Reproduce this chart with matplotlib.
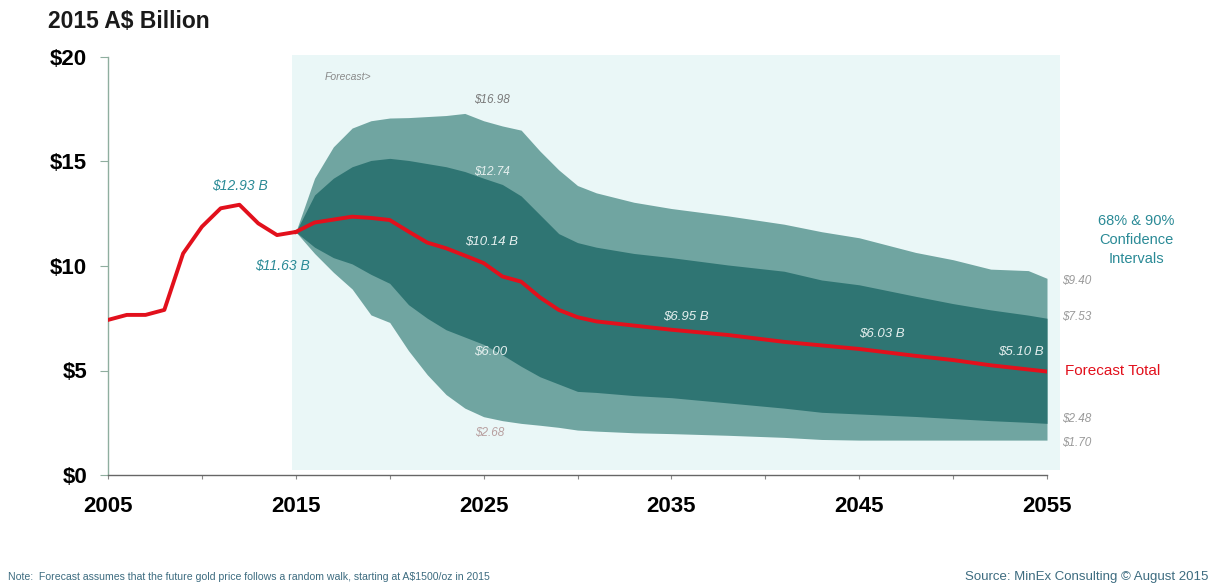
import matplotlib
matplotlib.use("Agg")
import matplotlib.pyplot as plt
from matplotlib.patches import Rectangle
from matplotlib import font_manager

plt.rcParams['font.family'] = ['Liberation Sans', 'DejaVu Sans']

# ---------------- data ----------------
hist_years = [2005, 2006, 2007, 2008, 2009, 2010, 2011, 2012, 2013, 2014, 2015]
hist_values = [7.42, 7.66, 7.66, 7.9, 10.6, 11.88, 12.76, 12.93, 12.04, 11.48, 11.63]

fc_years = [2015, 2016, 2017, 2018, 2019, 2020, 2021, 2022, 2023, 2024, 2025,
            2026, 2027, 2028, 2029, 2030, 2031, 2033, 2035, 2038, 2041, 2043,
            2045, 2048, 2050, 2052, 2054, 2055]
fc_median = [11.63, 12.08, 12.22, 12.36, 12.3, 12.2, 11.65, 11.12, 10.85, 10.5, 10.14,
             9.5, 9.25, 8.5, 7.9, 7.55, 7.35, 7.15, 6.95, 6.7, 6.37, 6.2,
             6.03, 5.7, 5.5, 5.25, 5.05, 4.95]
fc_upper90 = [11.63, 14.2, 15.7, 16.6, 16.95, 17.08, 17.1, 17.15, 17.2, 17.3, 16.95,
              16.7, 16.5, 15.5, 14.6, 13.85, 13.5, 13.05, 12.75, 12.4, 12.0, 11.64,
              11.35, 10.65, 10.3, 9.85, 9.78, 9.41]
fc_upper68 = [11.63, 13.4, 14.2, 14.75, 15.05, 15.15, 15.05, 14.9, 14.75, 14.52, 14.2,
              13.9, 13.35, 12.45, 11.55, 11.12, 10.9, 10.6, 10.4, 10.05, 9.75, 9.33,
              9.1, 8.55, 8.2, 7.9, 7.65, 7.5]
fc_lower68 = [11.63, 10.9, 10.4, 10.1, 9.6, 9.17, 8.15, 7.5, 6.95, 6.6, 6.25,
              5.75, 5.2, 4.7, 4.35, 4.0, 3.95, 3.8, 3.7, 3.45, 3.2, 3.0,
              2.92, 2.8, 2.7, 2.6, 2.52, 2.47]
fc_lower90 = [11.63, 10.6, 9.7, 8.9, 7.66, 7.3, 5.95, 4.8, 3.85, 3.2, 2.79,
              2.6, 2.47, 2.38, 2.28, 2.15, 2.1, 2.02, 1.98, 1.9, 1.8, 1.7,
              1.67, 1.67, 1.67, 1.67, 1.67, 1.67]

x_ticks = [2005, 2010, 2015, 2020, 2025, 2030, 2035, 2040, 2045, 2050, 2055]
x_labels = ['2005', '', '2015', '', '2025', '', '2035', '', '2045', '', '2055']
y_ticks = [0, 5, 10, 15, 20]
y_labels = ['$0', '$5', '$10', '$15', '$20']

# ---------------- colours ----------------
c_light = '#70a5a1'
c_dark = '#2f7573'
c_bg = '#eaf7f7'
c_red = '#e2101c'
c_teal_txt = '#2a8a96'
c_gray_txt = '#9a9a9a'

# narrow font for the note if available
installed = {f.name for f in font_manager.fontManager.ttflist}
narrow = 'Liberation Sans Narrow' if 'Liberation Sans Narrow' in installed else None

W, H = 1217, 588
fig = plt.figure(figsize=(W / 100, H / 100), dpi=100)
fig.patch.set_facecolor('white')

ax_left, ax_right = 108 / W, 1047 / W
ax_bottom, ax_top = (H - 475) / H, (H - 57) / H
ax = fig.add_axes([ax_left, ax_bottom, ax_right - ax_left, ax_top - ax_bottom])
ax.set_facecolor('none')
ax.set_xlim(2005, 2055)
ax.set_ylim(0, 20)

# forecast background panel
ax.add_patch(Rectangle((2014.8, 0.25), 40.9, 19.85, facecolor=c_bg,
                       edgecolor='none', zorder=0, clip_on=False))

ax.fill_between(fc_years, fc_lower90, fc_upper90, color=c_light, lw=0, zorder=1)
ax.fill_between(fc_years, fc_lower68, fc_upper68, color=c_dark, lw=0, zorder=2)

ax.plot(hist_years, hist_values, color=c_red, lw=2.8, zorder=4, solid_joinstyle='round')
ax.plot(fc_years, fc_median, color=c_red, lw=2.8, zorder=4, solid_joinstyle='round')

# spines / ticks
for s in ['top', 'right']:
    ax.spines[s].set_visible(False)
ax.spines['left'].set_color('#8fae9f')
ax.spines['left'].set_linewidth(1.0)
ax.spines['bottom'].set_color('#666666')
ax.spines['bottom'].set_linewidth(1.0)
ax.set_xticks(x_ticks)
ax.set_xticklabels(x_labels, fontsize=16, fontweight='bold')
ax.set_yticks(y_ticks)
ax.set_yticklabels(y_labels, fontsize=16, fontweight='bold')
ax.tick_params(axis='x', length=3, color='#888888', pad=12)
ax.tick_params(axis='y', length=6, color='#8fae9f', pad=9)

# annotations inside
it = dict(style='italic', ha='center', va='center', zorder=5)
ax.text(2012.03, 13.83, '$12.93 B', color=c_teal_txt, fontsize=10, **it)
ax.text(2014.27, 10.0, '$11.63 B', color=c_teal_txt, fontsize=10, **it)
ax.text(2016.55, 19.04, 'Forecast>', color='#8a8a8a', fontsize=7.5, style='italic',
        ha='left', va='center')
ax.text(2025.45, 17.94, '$16.98', color='#7a7a7a', fontsize=8.5, **it)
ax.text(2025.45, 14.5, '$12.74', color='#e6f0ef', fontsize=8.5, **it)
ax.text(2025.4, 11.15, '$10.14 B', color='#e6f0ef', fontsize=9.5, **it)
ax.text(2025.4, 5.89, '$6.00', color='#e6f0ef', fontsize=9.5, **it)
ax.text(2025.34, 2.0, '$2.68', color='#b8a0a0', fontsize=8.5, **it)
ax.text(2035.78, 7.56, '$6.95 B', color='#e6f0ef', fontsize=9.5, **it)
ax.text(2046.2, 6.75, '$6.03 B', color='#e6f0ef', fontsize=9.5, **it)
ax.text(2053.6, 5.89, '$5.10 B', color='#e6f0ef', fontsize=9.5, **it)

# right-side labels
rt = dict(style='italic', ha='left', va='center', color=c_gray_txt, fontsize=8.5,
          clip_on=False)
ax.text(2055.8, 9.28, '$9.40', **rt)
ax.text(2055.8, 7.56, '$7.53', **rt)
ax.text(2055.8, 2.68, '$2.48', **rt)
ax.text(2055.8, 1.53, '$1.70', **rt)
ax.text(2055.95, 4.98, 'Forecast Total', color=c_red, fontsize=11, ha='left',
        va='center', clip_on=False)
fig.text(1136 / W, 1 - 240 / H, '68% & 90%\nConfidence\nIntervals', color=c_teal_txt,
         fontsize=10.5, ha='center', va='center', linespacing=1.45)

# title and footers
fig.text(48 / W, 1 - 22 / H, '2015 A$ Billion', fontsize=16.5, fontweight='bold',
         ha='left', va='center', color='#1a1a1a')
note = 'Note:  Forecast assumes that the future gold price follows a random walk, starting at A$1500/oz in 2015'
if narrow:
    fig.text(8 / W, 1 - 577 / H, note, fontsize=9, family=[narrow, 'Liberation Sans'],
             ha='left', va='center', color='#3d6c80')
else:
    fig.text(8 / W, 1 - 577 / H, note, fontsize=7.6, ha='left', va='center',
             color='#3d6c80')
fig.text(1208 / W, 1 - 577 / H, 'Source: MinEx Consulting \u00a9 August 2015',
         fontsize=9.5, ha='right', va='center', color='#3d6c80')

fig.savefig('out.png', dpi=100)
